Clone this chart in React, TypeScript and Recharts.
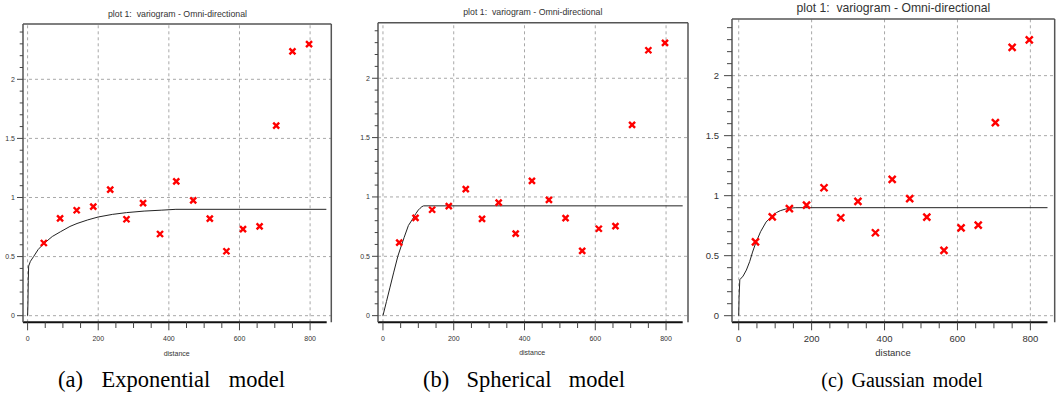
import React from 'react';
import { ComposedChart, XAxis, YAxis, Scatter, Line, ReferenceLine } from 'recharts';

// empirical variogram (same in all three panels)
const lagDistance = [46, 92, 139, 186, 234, 280, 327, 375, 421, 469, 516, 563, 610, 657, 704, 750, 797];
const semivariance = [0.615, 0.823, 0.892, 0.922, 1.066, 0.816, 0.953, 0.691, 1.136, 0.976, 0.821, 0.545, 0.732, 0.755, 1.608, 2.236, 2.298];

// fitted model curves
const expModelH = [0, 1, 2, 3, 8, 17, 30, 46, 70, 93, 120, 140, 170, 200, 240, 280, 330, 380, 420, 846];
const expModelG = [0, 0.1, 0.3, 0.42, 0.46, 0.5, 0.56, 0.61, 0.67, 0.71, 0.755, 0.78, 0.81, 0.835, 0.857, 0.872, 0.885, 0.893, 0.9, 0.9];

const sphModelH = [0, 10, 20, 30, 42, 52, 60, 72, 83, 93, 100, 105, 110, 115, 847];
const sphModelG = [0, 0.12, 0.24, 0.36, 0.5, 0.59, 0.66, 0.76, 0.81, 0.86, 0.89, 0.905, 0.918, 0.925, 0.925];

const gauModelH = [0, 1, 3, 12, 21, 30, 38, 46, 60, 75, 91, 104, 114, 128, 140, 155, 847];
const gauModelG = [0, 0.15, 0.3, 0.33, 0.38, 0.45, 0.53, 0.6, 0.7, 0.78, 0.83, 0.86, 0.875, 0.888, 0.895, 0.9, 0.9];

const xTicks = [0, 50, 100, 150, 200, 250, 300, 350, 400, 450, 500, 550, 600, 650, 700, 750, 800];
const xLabelTicks = [0, 200, 400, 600, 800];
const yTicks = [0, 0.1, 0.2, 0.3, 0.4, 0.5, 0.6, 0.7, 0.8, 0.9, 1, 1.1, 1.2, 1.3, 1.4, 1.5, 1.6, 1.7, 1.8, 1.9, 2, 2.1, 2.2, 2.3, 2.4];
const yLabelTicks = [0, 0.5, 1, 1.5, 2];

const plotTitle = 'plot 1:  variogram - Omni-directional';
const xAxisTitle = 'distance';
const captions = ['(a)  Exponential  model', '(b)  Spherical  model', '(c)  Gaussian  model'];

const points = lagDistance.map((x, i) => ({ x, y: semivariance[i] }));
const toCurve = (h: number[], g: number[]) => h.map((x, i) => ({ x, y: g[i] }));

const YW = 40;
const XH = 30;
const MR = 2;
const H = 394;
const SANS = '"Liberation Sans", Arial, sans-serif';

type PanelCfg = {
  plot: { left: number; top: number; right: number; bottom: number };
  xDomain: [number, number];
  yDomain: [number, number];
  axisEnd: number;
  tickFont: number;
  titleFont: number;
  yMajor: number;
  yMinor: number;
  xMajor: number;
  xMinor: number;
  yLabelGap: number;
  mark: number;
  title: [number, number];
  xTitle: [number, number];
  caption: [number, number];
  captionText: string;
  captionFont: number;
  captionSpacing: number;
  curve: { x: number; y: number }[];
};

const panels: PanelCfg[] = [
  {
    plot: { left: 22.7, top: 24, right: 331, bottom: 322.3 },
    xDomain: [-13, 860],
    yDomain: [-0.056, 2.468],
    axisEnd: 847,
    tickFont: 7,
    titleFont: 8.75,
    yMajor: 6,
    yMinor: 3.3,
    xMajor: 8,
    xMinor: 5.7,
    yLabelGap: 8,
    mark: 3,
    title: [177.5, 14],
    xTitle: [176.7, 352.7],
    caption: [171.5, 380],
    captionText: captions[0],
    captionFont: 22.5,
    captionSpacing: 3.6,
    curve: toCurve(expModelH, expModelG),
  },
  {
    plot: { left: 377.7, top: 22.7, right: 687.7, bottom: 322.3 },
    xDomain: [-14, 862],
    yDomain: [-0.056, 2.468],
    axisEnd: 847,
    tickFont: 7,
    titleFont: 8.75,
    yMajor: 6,
    yMinor: 3.3,
    xMajor: 8,
    xMinor: 5.7,
    yLabelGap: 8,
    mark: 3,
    title: [532.8, 12.3],
    xTitle: [532.2, 352.3],
    caption: [524, 380],
    captionText: captions[1],
    captionFont: 22.5,
    captionSpacing: 3,
    curve: toCurve(sphModelH, sphModelG),
  },
  {
    plot: { left: 732.3, top: 19, right: 1055, bottom: 322.3 },
    xDomain: [-18.4, 866.7],
    yDomain: [-0.055, 2.472],
    axisEnd: 847,
    tickFont: 9.5,
    titleFont: 12.2,
    yMajor: 8,
    yMinor: 5,
    xMajor: 8,
    xMinor: 6,
    yLabelGap: 13,
    mark: 3.5,
    title: [893.3, 8],
    xTitle: [893, 353.3],
    caption: [902, 380],
    captionText: captions[2],
    captionFont: 20,
    captionSpacing: -1,
    curve: toCurve(gauModelH, gauModelG),
  },
];

const isMajor = (v: number, list: number[]) => list.some((t) => Math.abs(t - v) < 1e-6);

function Panel({ cfg }: { cfg: PanelCfg }) {
  const { plot, xDomain, yDomain } = cfg;
  const width = YW + (plot.right - plot.left) + MR;
  const margin = { top: plot.top, right: MR, left: 0, bottom: H - plot.bottom - XH };

  const yTick = (p: any) => {
    const v = p.payload.value;
    const major = isMajor(v, yLabelTicks);
    const len = major ? cfg.yMajor : cfg.yMinor;
    return (
      <g>
        <line x1={p.x - len} x2={p.x} y1={p.y} y2={p.y} stroke="#444" strokeWidth={1} />
        {major && (
          <text x={p.x - cfg.yLabelGap} y={p.y} dy="0.35em" textAnchor="end" fontSize={cfg.tickFont} fill="#333" fontFamily={SANS}>
            {v}
          </text>
        )}
      </g>
    );
  };

  const xTick = (p: any) => {
    const v = p.payload.value;
    const major = isMajor(v, xLabelTicks);
    const len = major ? cfg.xMajor : cfg.xMinor;
    return (
      <g>
        <line x1={p.x} x2={p.x} y1={p.y} y2={p.y + len} stroke="#444" strokeWidth={1} />
        {major && (
          <text x={p.x} y={p.y + 16} dy="0.35em" textAnchor="middle" fontSize={cfg.tickFont} fill="#333" fontFamily={SANS}>
            {v}
          </text>
        )}
      </g>
    );
  };

  const mark = (p: any) => {
    const { cx, cy } = p;
    const s = cfg.mark;
    return (
      <path
        d={`M${cx - s},${cy - s}L${cx + s},${cy + s}M${cx + s},${cy - s}L${cx - s},${cy + s}`}
        stroke="#ff0000"
        strokeWidth={2.4}
        fill="none"
      />
    );
  };

  return (
    <div style={{ position: 'absolute', left: plot.left - YW, top: 0 }}>
      <ComposedChart width={width} height={H} margin={margin}>
        <XAxis
          type="number"
          dataKey="x"
          domain={xDomain}
          ticks={xTicks}
          interval={0}
          allowDataOverflow
          height={XH}
          tickSize={0}
          tickMargin={0}
          axisLine={false}
          tickLine={false}
          tick={xTick}
        />
        <YAxis
          type="number"
          dataKey="y"
          domain={yDomain}
          ticks={yTicks}
          interval={0}
          allowDataOverflow
          width={YW}
          tickSize={0}
          tickMargin={0}
          axisLine={{ stroke: '#555', strokeWidth: 1.5 }}
          tickLine={false}
          tick={yTick}
        />
        {xLabelTicks.map((v) => (
          <ReferenceLine key={'gx' + v} x={v} stroke="#a8a8a8" strokeDasharray="3 3" />
        ))}
        {yLabelTicks.map((v) => (
          <ReferenceLine key={'gy' + v} y={v} stroke="#a8a8a8" strokeDasharray="3 3" />
        ))}
        <ReferenceLine y={yDomain[1]} stroke="#555" strokeWidth={1.5} />
        <ReferenceLine x={xDomain[1]} stroke="#555" strokeWidth={1.5} />
        <ReferenceLine
          segment={[
            { x: xDomain[0], y: yDomain[0] },
            { x: cfg.axisEnd, y: yDomain[0] },
          ]}
          stroke="#111"
          strokeWidth={2}
        />
        <Line
          data={cfg.curve}
          dataKey="y"
          type="linear"
          stroke="#222"
          strokeWidth={1}
          dot={false}
          activeDot={false}
          isAnimationActive={false}
        />
        <Scatter data={points} dataKey="y" shape={mark} isAnimationActive={false} />
      </ComposedChart>
    </div>
  );
}

function Label({
  at,
  size,
  text,
  serif,
  spacing = 0,
}: {
  at: [number, number];
  size: number;
  text: string;
  serif?: boolean;
  spacing?: number;
}) {
  return (
    <div
      style={{
        position: 'absolute',
        left: at[0],
        top: at[1],
        transform: 'translate(-50%, -50%)',
        whiteSpace: 'pre',
        fontSize: size,
        lineHeight: 1,
        wordSpacing: spacing,
        fontFamily: serif ? '"Liberation Serif", "Times New Roman", serif' : SANS,
        color: serif ? '#000' : '#333',
      }}
    >
      {text}
    </div>
  );
}

export default function App() {
  return (
    <div style={{ position: 'absolute', left: 0, top: 0, width: 1056, height: H, background: '#fff', overflow: 'hidden' }}>
      {panels.map((cfg, i) => (
        <React.Fragment key={i}>
          <Panel cfg={cfg} />
          <Label at={cfg.title} size={cfg.titleFont} text={plotTitle} />
          <Label at={cfg.xTitle} size={cfg.tickFont} text={xAxisTitle} />
          <Label at={cfg.caption} size={cfg.captionFont} text={cfg.captionText} serif spacing={cfg.captionSpacing} />
        </React.Fragment>
      ))}
    </div>
  );
}
